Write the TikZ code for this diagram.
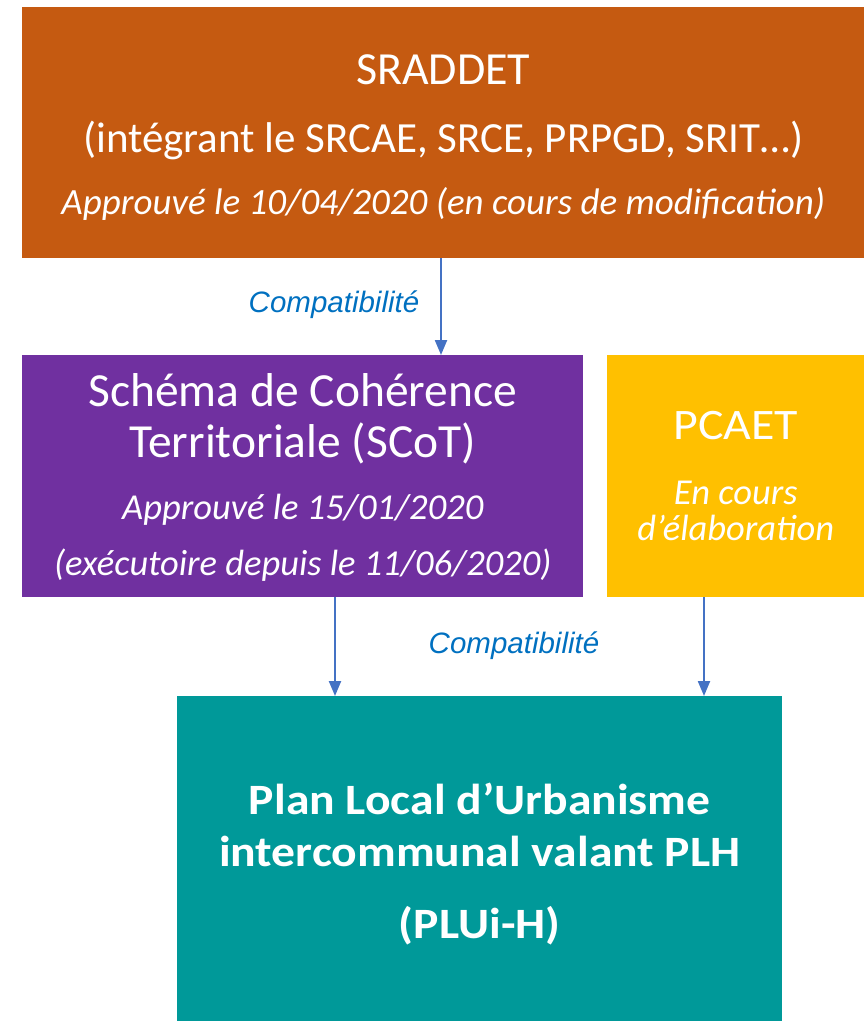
\documentclass[tikz,border=0pt]{standalone}
\usepackage{fontspec}
\setmainfont{Carlito}
\newfontfamily\carlitolarge[FakeStretch=1.1]{Carlito}
\newfontfamily\arialfont{Liberation Sans}
\usetikzlibrary{arrows.meta}

\definecolor{sraddetcol}{RGB}{197,90,17}
\definecolor{scotcol}{RGB}{112,48,160}
\definecolor{pcaetcol}{RGB}{255,192,0}
\definecolor{plucol}{RGB}{0,153,153}
\definecolor{flechecol}{RGB}{68,114,196}
\definecolor{lienbleu}{RGB}{0,112,192}

\newcommand{\taille}[2]{\fontsize{#1}{#2}\selectfont}

\begin{document}
\begin{tikzpicture}[x=1pt,y=-1pt]
  \tikzset{
    bloc/.style={inner sep=0pt, anchor=north west},
    texte/.style={inner sep=0pt, text=white, align=center, anchor=center},
    fleche/.style={draw=flechecol, line width=2.2pt, -{Triangle[length=15pt,width=12pt]}},
    compat/.style={font=\arialfont\itshape\taille{29.5}{34}, text=lienbleu, anchor=base}
  }

  % cadre
  \useasboundingbox (0,0) rectangle (864,1021);

  % SRADDET
  \node[bloc, fill=sraddetcol, minimum width=842pt, minimum height=251pt] (sraddet) at (22,7) {};
  \node[texte, font=\taille{46}{50}, yshift=-5pt] (sraddet-txt) at (sraddet.center)
    {SRADDET\\[18pt]
     \taille{43}{50}(intégrant le SRCAE, SRCE, PRPGD, SRIT…)\\[12pt]
     \itshape\taille{37}{50}Approuvé le 10/04/2020 (en cours de modification)};

  % SCoT
  \node[bloc, fill=scotcol, minimum width=561pt, minimum height=242pt] (scot) at (22,355) {};
  \node[texte, font=\taille{47.5}{50}, yshift=-1.2pt] (scot-txt) at (scot.center)
    {Schéma de Cohérence\\[1pt]
     Territoriale (SCoT)\\[12pt]
     \itshape\taille{36.5}{50}Approuvé le 15/01/2020\\[6pt]
     \itshape\taille{36.5}{50}(exécutoire depuis le 11/06/2020)};

  % PCAET
  \node[bloc, fill=pcaetcol, minimum width=257pt, minimum height=242pt] (pcaet) at (607,355) {};
  \node[texte, font=\carlitolarge\taille{43.5}{50}, yshift=0pt] (pcaet-txt) at (pcaet.center)
    {PCAET\\[15pt]
     \rmfamily\itshape\taille{36.5}{50}En cours\\[-14pt]
     \rmfamily\itshape\taille{36.5}{50}d’élaboration};

  % PLUi-H
  \node[bloc, fill=plucol, minimum width=605pt, minimum height=325pt] (plu) at (177,696) {};
  \node[texte, font=\carlitolarge\bfseries\taille{43.3}{50}, yshift=-5.5pt] (plu-txt) at (plu.center)
    {Plan Local d’Urbanisme\\[2pt]
     intercommunal valant PLH\\[22pt]
     (PLUi-H)};

  % fleches
  \coordinate (x1) at (441,0);
  \coordinate (x2) at (335,0);
  \coordinate (x3) at (704,0);
  \draw[fleche] (sraddet.south -| x1) -- (scot.north -| x1);
  \draw[fleche] (scot.south -| x2) -- (plu.north -| x2);
  \draw[fleche] (pcaet.south -| x3) -- (plu.north -| x3);

  % Compatibilite
  \node[compat] (compat1) at (334,312) {Compatibilité};
  \node[compat] (compat2) at (514,653) {Compatibilité};

\end{tikzpicture}
\end{document}
